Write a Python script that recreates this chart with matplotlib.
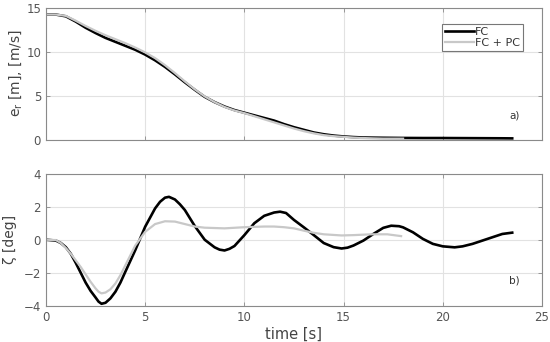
import matplotlib
matplotlib.use("Agg")
import matplotlib.pyplot as plt

# range error e_r, FC
t_er_fc = [0, 0.5, 1, 1.5, 2, 2.5, 3, 3.5, 4, 4.5, 5, 5.5, 6, 6.5, 7, 7.5, 8, 8.5, 9, 9.5,
           10, 10.5, 11, 11.5, 12, 12.5, 13, 13.5, 14, 14.5, 15, 15.5, 16, 17, 18, 19, 20,
           21, 22, 23, 23.5]
er_fc = [14.2, 14.2, 14.0, 13.4, 12.7, 12.1, 11.55, 11.1, 10.65, 10.2, 9.65, 9.0, 8.25, 7.4,
         6.5, 5.65, 4.85, 4.25, 3.75, 3.35, 3.05, 2.75, 2.45, 2.15, 1.75, 1.4, 1.1, 0.8, 0.6,
         0.45, 0.35, 0.28, 0.23, 0.2, 0.18, 0.17, 0.17, 0.16, 0.15, 0.14, 0.13]

# range error e_r, FC + PC
t_er_pc = [0, 0.5, 1, 1.5, 2, 2.5, 3, 3.5, 4, 4.5, 5, 5.5, 6, 6.5, 7, 7.5, 8, 8.5, 9, 9.5,
           10, 10.5, 11, 11.5, 12, 12.5, 13, 13.5, 14, 14.5, 15, 15.5, 16, 16.5, 17, 17.5, 18]
er_pc = [14.2, 14.2, 14.05, 13.5, 12.9, 12.35, 11.85, 11.4, 10.95, 10.45, 9.9, 9.25, 8.45,
         7.55, 6.6, 5.7, 4.9, 4.25, 3.7, 3.3, 3.0, 2.65, 2.3, 1.95, 1.6, 1.25, 0.95, 0.7, 0.5,
         0.38, 0.3, 0.22, 0.17, 0.13, 0.1, 0.1, 0.1]

# zeta, FC
t_z_fc = [0, 0.5, 0.75, 1, 1.25, 1.5, 1.75, 2, 2.25, 2.5, 2.65, 2.8, 3, 3.25, 3.5, 3.75, 4,
          4.5, 5, 5.5, 5.75, 6, 6.2, 6.5, 6.75, 7, 7.5, 8, 8.5, 8.75, 9, 9.25, 9.5, 10, 10.5,
          11, 11.5, 11.8, 12.1, 12.5, 13, 13.5, 14, 14.5, 14.9, 15.2, 15.5, 16, 16.5, 17,
          17.4, 17.8, 18, 18.5, 19, 19.5, 20, 20.6, 21, 21.5, 22, 22.5, 23, 23.5]
z_fc = [0, -0.05, -0.2, -0.45, -0.85, -1.4, -2.0, -2.6, -3.1, -3.5, -3.75, -3.88, -3.82,
        -3.55, -3.15, -2.6, -1.94, -0.63, 0.79, 1.9, 2.3, 2.55, 2.6, 2.44, 2.15, 1.8, 0.83,
        0.0, -0.46, -0.6, -0.65, -0.55, -0.38, 0.28, 1.0, 1.45, 1.65, 1.7, 1.62, 1.2, 0.75,
        0.28, -0.2, -0.45, -0.53, -0.48, -0.35, -0.05, 0.35, 0.72, 0.85, 0.82, 0.75, 0.45,
        0.05, -0.25, -0.4, -0.46, -0.4, -0.25, -0.05, 0.15, 0.35, 0.43]

# zeta, FC + PC
t_z_pc = [0, 0.5, 0.75, 1, 1.25, 1.5, 1.75, 2, 2.25, 2.5, 2.65, 2.8, 3, 3.25, 3.5, 3.75, 4,
          4.5, 5, 5.5, 6, 6.5, 7, 7.5, 8, 9, 10, 11, 11.5, 12, 12.5, 13, 13.5, 14, 14.9,
          15.5, 16.4, 17.2, 17.9]
z_pc = [0, -0.02, -0.2, -0.5, -0.85, -1.25, -1.65, -2.1, -2.55, -2.95, -3.15, -3.25, -3.2,
        -3.0, -2.65, -2.15, -1.55, -0.35, 0.48, 0.95, 1.12, 1.1, 0.95, 0.8, 0.73, 0.69, 0.76,
        0.8, 0.8, 0.76, 0.69, 0.55, 0.42, 0.33, 0.26, 0.28, 0.33, 0.33, 0.22]

xticks = [0, 5, 10, 15, 20, 25]

fig = plt.figure(figsize=(5.5, 3.42), dpi=100)
ax1 = fig.add_axes([0.0836, 0.592, 0.9018, 0.386])
ax2 = fig.add_axes([0.0836, 0.106, 0.9018, 0.386])

tick_col = "#555555"
spine_col = "#8a8a8a"

for ax in (ax1, ax2):
    ax.set_xlim(0, 25)
    ax.set_xticks(xticks)
    ax.grid(True, color="#e2e2e2", linewidth=0.8)
    ax.set_axisbelow(True)
    ax.tick_params(direction="in", top=True, right=True, length=3, width=0.6,
                   colors=spine_col, labelcolor=tick_col, labelsize=8.5)
    for s in ax.spines.values():
        s.set_color(spine_col)
        s.set_linewidth(0.8)

ax1.plot(t_er_fc, er_fc, color="black", linewidth=1.9, label="FC")
ax1.plot(t_er_pc, er_pc, color="#c8c8c8", linewidth=1.6, label="FC + PC")
ax1.set_ylim(0, 15)
ax1.set_yticks([0, 5, 10, 15])
ax1.set_xticklabels([])
ax1.set_ylabel(r"e$_\mathregular{r}$ [m], [m/s]", fontsize=10, color="#444444")
ax1.yaxis.set_label_coords(-0.044, 0.5)
ax1.text(23.6, 2.7, "a)", fontsize=7.5, color="#333333", ha="center", va="center")
leg = ax1.legend(loc="upper right", bbox_to_anchor=(0.972, 0.915), fontsize=8,
                 handlelength=2.6, handletextpad=0.1, borderpad=0.25, labelspacing=0.1,
                 fancybox=False, framealpha=1)
leg.get_frame().set_edgecolor("#777777")
leg.get_frame().set_linewidth(0.8)
for txt in leg.get_texts():
    txt.set_color("#333333")

ax2.plot(t_z_fc, z_fc, color="black", linewidth=1.9)
ax2.plot(t_z_pc, z_pc, color="#c8c8c8", linewidth=1.6)
ax2.set_ylim(-4, 4)
ax2.set_yticks([-4, -2, 0, 2, 4])
ax2.set_ylabel("ζ [deg]", fontsize=10, color="#444444")
ax2.yaxis.set_label_coords(-0.058, 0.5)
ax2.set_xlabel("time [s]", fontsize=10.5, color="#444444", labelpad=2)
ax2.text(23.6, -2.48, "b)", fontsize=7.5, color="#333333", ha="center", va="center")

fig.savefig("out.png", dpi=100)
